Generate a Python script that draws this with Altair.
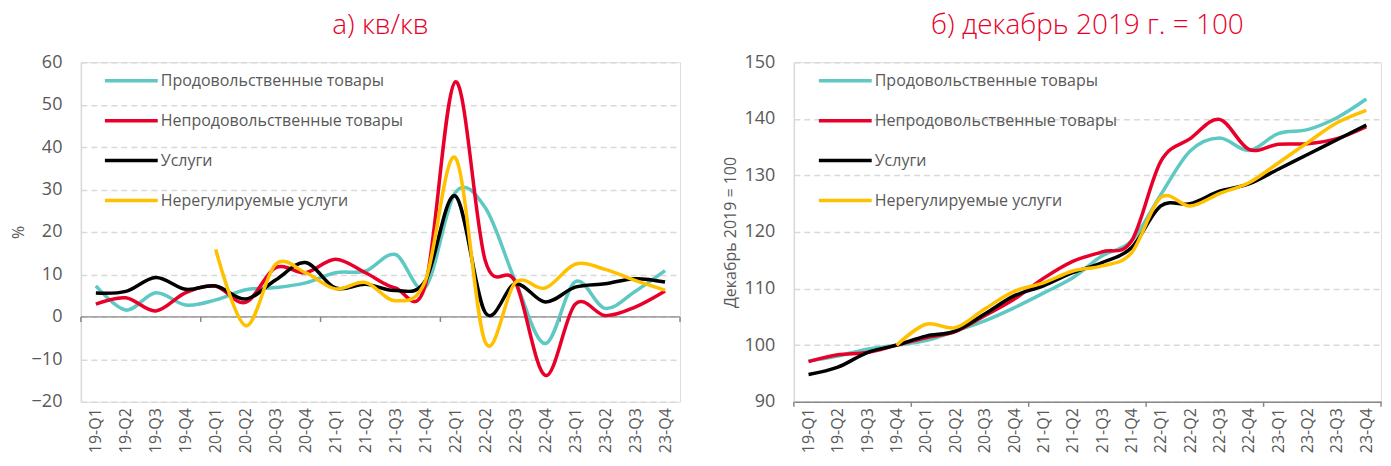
import altair as alt
import pandas as pd

quarters = ["19-Q1","19-Q2","19-Q3","19-Q4","20-Q1","20-Q2","20-Q3","20-Q4",
            "21-Q1","21-Q2","21-Q3","21-Q4","22-Q1","22-Q2","22-Q3","22-Q4",
            "23-Q1","23-Q2","23-Q3","23-Q4"]
series_names = ["Продовольственные товары", "Непродовольственные товары",
                "Услуги", "Нерегулируемые услуги"]
series_colors = ["#5EC8C3", "#E8002A", "#000000", "#FFC000"]

# a) q/q, %
qq_food    = [7.3, 1.6, 5.7, 2.8, 4.0, 6.4, 6.9, 8.0, 10.4, 10.8, 14.7, 7.0,
              29.3, 25.7, 8.5, -6.3, 8.3, 2.0, 6.0, 10.9]
qq_nonfood = [3.0, 4.5, 1.4, 5.7, 7.2, 3.4, 11.6, 10.4, 13.6, 10.4, 6.8, 7.5,
              55.4, 13.2, 8.3, -13.8, 3.0, 0.3, 2.3, 6.1]
qq_serv    = [5.6, 6.0, 9.3, 6.5, 7.3, 4.2, 8.7, 12.8, 6.8, 7.7, 6.2, 8.5,
              28.5, 1.0, 7.8, 3.5, 7.0, 7.8, 9.0, 8.2]
qq_unreg   = [None, None, None, None, 15.9, -2.1, 12.4, 10.4, 6.6, 8.1, 3.8, 8.5,
              37.5, -6.0, 8.1, 6.8, 12.4, 11.2, 8.6, 6.3]

# б) December 2019 = 100
ix_food    = [97.2, 98.1, 99.3, 100.0, 100.8, 102.5, 104.3, 106.6, 109.2, 111.9,
              115.8, 118.4, 126.6, 134.3, 136.6, 134.4, 137.4, 138.1, 140.2, 143.5]
ix_nonfood = [97.1, 98.3, 98.7, 100.0, 101.3, 102.4, 105.2, 108.1, 111.8, 114.8,
              116.5, 118.4, 132.5, 136.5, 139.9, 134.6, 135.5, 135.6, 136.5, 138.6]
ix_serv    = [94.8, 96.1, 98.7, 100.0, 101.6, 102.5, 105.5, 108.7, 110.5, 112.8,
              114.6, 117.2, 124.6, 125.0, 127.2, 128.5, 131.1, 133.7, 136.3, 138.9]
ix_unreg   = [None, None, None, 100.0, 103.7, 103.1, 106.4, 109.5, 111.0, 113.1,
              114.0, 116.3, 126.1, 124.6, 126.8, 128.7, 132.2, 135.8, 139.3, 141.5]

group_edges = [-0.5, 3.5, 7.5, 11.5, 15.5, 19.5]


def long_df(cols):
    rows = []
    for name, vals in zip(series_names, cols):
        for i, v in enumerate(vals):
            if v is not None:
                rows.append({"i": i, "q": quarters[i], "series": name, "v": v})
    return pd.DataFrame(rows)


df_a = long_df([qq_food, qq_nonfood, qq_serv, qq_unreg])
df_b = long_df([ix_food, ix_nonfood, ix_serv, ix_unreg])
edges_df = pd.DataFrame({"e": group_edges})

FONT = "Open Sans"
GREY_TXT = "#595959"
label_expr = "[" + ",".join("'%s'" % q for q in quarters) + "][datum.value]"


def panel(df, ydomain, yvalues, ytitle, title, width, zero_line, ybase, tick_len,
          title_pad, legend_x):
    color = alt.Color("series:N",
                      scale=alt.Scale(domain=series_names, range=series_colors),
                      legend=alt.Legend(title=None, orient="none", legendX=legend_x,
                                        legendY=-10,
                                        symbolType="stroke", symbolSize=2800,
                                        symbolStrokeWidth=3.5, labelFontSize=16,
                                        labelColor=GREY_TXT, labelFont=FONT,
                                        labelLimit=500, labelOffset=1, rowPadding=3))
    x_axis = alt.Axis(values=list(range(len(quarters))), labelExpr=label_expr,
                      labelAngle=270, labelFontSize=16, labelColor=GREY_TXT,
                      labelFont=FONT, ticks=False, grid=False, title=None,
                      labelPadding=6, labelBaseline="middle", labelAlign="right",
                      labelOverlap=False, labelBound=False, labelFlush=False,
                      domain=not zero_line, domainColor="#888888", domainWidth=1.5)
    y_axis = alt.Axis(values=yvalues, title=ytitle, titleFontSize=16,
                      titleColor=GREY_TXT, titleFont=FONT, titleFontWeight="normal",
                      labelFontSize=18, labelColor=GREY_TXT, labelFont=FONT,
                      labelPadding=19, ticks=False, domainColor="#D9D9D9",
                      domainWidth=1.5, gridColor="#D9D9D9", gridDash=[6, 4],
                      gridWidth=1.5, titlePadding=title_pad)
    xscale = alt.Scale(domain=[-0.5, 19.5], nice=False, zero=False)
    yscale = alt.Scale(domain=ydomain, nice=False, zero=False)
    lines = alt.Chart(df).mark_line(interpolate="cardinal", strokeWidth=3.5).encode(
        x=alt.X("i:Q", scale=xscale, axis=x_axis),
        y=alt.Y("v:Q", scale=yscale, axis=y_axis),
        color=color, order="i:Q")
    layers = []
    if zero_line:
        zero = alt.Chart(pd.DataFrame({"z": [0]})).mark_rule(
            color="#888888", strokeWidth=1.5).encode(
            y=alt.Y("z:Q", scale=yscale, axis=y_axis))
        layers.append(zero)
    ticks = alt.Chart(edges_df).mark_rule(color="#888888", strokeWidth=1.5).encode(
        x=alt.X("e:Q", scale=xscale, axis=x_axis),
        y=alt.datum(ybase), y2=alt.datum(ybase - tick_len))
    layers += [lines, ticks]
    return alt.layer(*layers).properties(
        width=width, height=340,
        title=alt.Title(title, fontSize=28, color="#E8002A", font=FONT,
                        fontWeight=300, offset=12, frame="group", anchor="middle"))


left = panel(df_a, [-20, 60], list(range(-20, 61, 10)), "%", "а) кв/кв",
             600, True, 0, 1.2, 5, 22)
right = panel(df_b, [90, 150], list(range(90, 151, 10)), "Декабрь 2019 = 100",
              "б) декабрь 2019 г. = 100", 588, False, 90, 0.9, 6, 23)

chart = alt.hconcat(left, right, spacing=39).resolve_scale(
    color="independent").properties(
    padding={"left": 1, "top": 3, "right": 0, "bottom": 0}).configure_view(
    stroke=None).configure(background="white")

chart.save("out.html", embed_options={"renderer": "svg", "actions": False})
